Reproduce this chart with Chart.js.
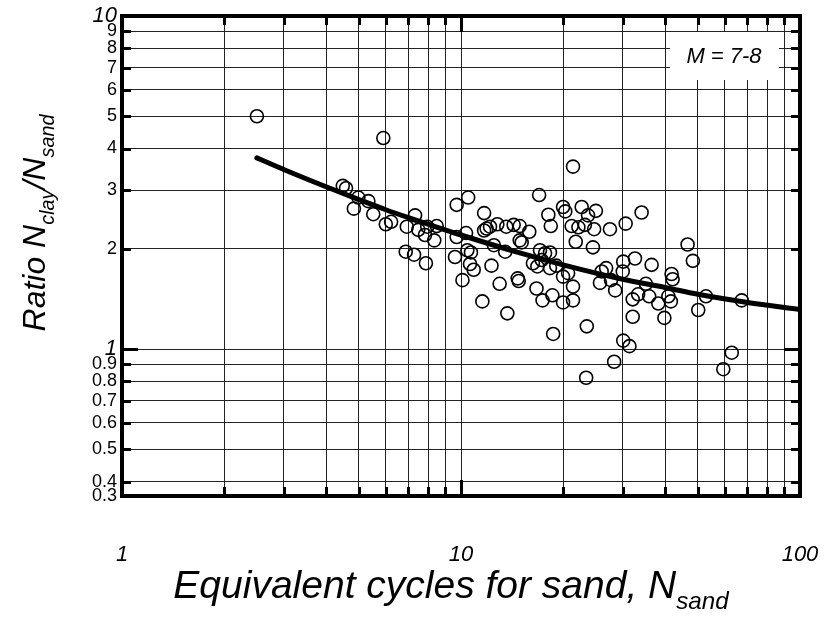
<!DOCTYPE html>
<html>
<head>
<meta charset="utf-8">
<script src="https://cdn.jsdelivr.net/npm/chart.js@4.4.1/dist/chart.umd.min.js"></script>
<style>
html,body{margin:0;padding:0;background:#fff;}
canvas{display:block;}
</style>
</head>
<body>
<canvas id="chart" width="828" height="621"></canvas>
<script>

const sandCycles = [
  2.5, 5.9, 4.48, 4.58, 4.98, 5.33, 4.83, 5.51, 6.0, 6.22,
  6.92, 7.32, 6.87, 7.27, 7.48, 7.95, 7.83, 8.48, 8.34, 7.88,
  9.71, 10.5, 9.71, 10.35, 9.6, 10.44, 10.7, 10.63, 10.9, 10.1,
  11.56, 11.7, 11.7, 11.9, 12.18, 12.8, 12.5, 12.3, 13.5, 13.6,
  14.3, 14.9, 15.9, 14.9, 15.1, 13.0, 14.7, 14.8, 13.7, 17.0,
  18.1, 18.4, 20.0, 17.1, 17.7, 18.3, 16.3, 16.8, 17.3, 18.3,
  19.1, 16.7, 17.4, 18.6, 20.0, 18.7, 20.0, 21.4, 20.3, 22.7,
  23.7, 25.0, 21.2, 22.2, 23.2, 24.7, 27.5, 30.6, 34.1, 21.8,
  24.5, 20.7, 21.4, 21.4, 23.5, 26.0, 26.8, 25.7, 27.7, 28.5,
  30.1, 30.0, 32.6, 36.5, 32.1, 33.3, 35.1, 35.9, 38.2, 32.1,
  39.8, 41.8, 42.1, 40.9, 41.6, 46.6, 48.3, 50.1, 30.1, 31.4,
  52.8, 67.3, 62.9, 59.4, 28.3, 23.4
];
const cycleRatio = [
  5.0, 4.3, 3.09, 3.04, 2.85, 2.78, 2.64, 2.54, 2.37, 2.41,
  2.33, 2.52, 1.96, 1.92, 2.28, 2.33, 2.20, 2.34, 2.12, 1.81,
  2.71, 2.85, 2.17, 2.23, 1.89, 1.98, 1.95, 1.80, 1.73, 1.61,
  1.39, 2.56, 2.27, 2.30, 2.33, 2.37, 2.05, 1.78, 1.96, 2.33,
  2.36, 2.34, 2.25, 2.12, 2.09, 1.57, 1.63, 1.60, 1.28, 2.90,
  2.53, 2.34, 2.67, 1.98, 1.94, 1.95, 1.81, 1.77, 1.85, 1.75,
  1.78, 1.52, 1.40, 1.45, 1.38, 1.11, 1.65, 3.53, 2.59, 2.67,
  2.52, 2.60, 2.34, 2.32, 2.36, 2.29, 2.29, 2.38, 2.57, 2.10,
  2.02, 1.69, 1.54, 1.40, 1.17, 1.71, 1.75, 1.58, 1.61, 1.50,
  1.83, 1.71, 1.87, 1.79, 1.41, 1.46, 1.57, 1.44, 1.37, 1.25,
  1.24, 1.68, 1.62, 1.44, 1.39, 2.06, 1.84, 1.31, 1.06, 1.02,
  1.44, 1.40, 0.975, 0.87, 0.916, 0.82
];

// fitted trend line
const fitCycles = [2.5, 3, 4, 5, 6, 7, 8, 10, 15, 20, 30, 40, 50, 70, 100];
const fitRatio = [3.75, 3.46, 3.07, 2.81, 2.62, 2.48, 2.37, 2.20, 1.94, 1.79, 1.62, 1.53, 1.46, 1.38, 1.315];

const xTicks = [1, 2, 3, 4, 5, 6, 7, 8, 9, 10, 20, 30, 40, 50, 60, 70, 80, 90, 100];
const xTickLabels = ["1", "", "", "", "", "", "", "", "", "10", "", "", "", "", "", "", "", "", "100"];
const yTicks = [0.362, 0.4, 0.5, 0.6, 0.7, 0.8, 0.9, 1, 2, 3, 4, 5, 6, 7, 8, 9, 10];
const yTickLabels = ["0.3", "0.4", "0.5", "0.6", "0.7", "0.8", "0.9", "1", "2", "3", "4", "5", "6", "7", "8", "9", "10"];

const magnitudeLabel = "M = 7-8";
const xTitle = [{t: "Equivalent cycles for sand, N"}, {t: "sand", sub: true}];
const yTitle = [{t: "Ratio N"}, {t: "clay", sub: true}, {t: "/N"}, {t: "sand", sub: true}];

const FONT = '"Liberation Sans", Arial, sans-serif';

function drawRuns(ctx, runs, size){
    const subSize = size * 0.62;
    let total = 0;
    runs.forEach(r => {
        ctx.font = "italic " + (r.sub ? subSize : size) + "px " + FONT;
        r.w = ctx.measureText(r.t).width;
        total += r.w;
    });
    let cx = -total / 2;
    ctx.textAlign = "left";
    ctx.textBaseline = "alphabetic";
    runs.forEach(r => {
        ctx.font = "italic " + (r.sub ? subSize : size) + "px " + FONT;
        ctx.fillText(r.t, cx, r.sub ? size * 0.28 : 0);
        cx += r.w;
    });
}

const framePlugin = {
    id: "frame",
    beforeDatasetsDraw(chart){
        const ctx = chart.ctx;
        const a = chart.chartArea;
        ctx.save();
        ctx.fillStyle = "#fff";
        ctx.fillRect(a.right - 130, a.top + 16, 109, 48);
        ctx.fillStyle = "#000";
        ctx.font = "italic 22px " + FONT;
        ctx.textAlign = "center";
        ctx.textBaseline = "middle";
        ctx.fillText(magnitudeLabel, a.right - 76, a.top + 41);
        ctx.restore();
    },
    afterDraw(chart){
        const ctx = chart.ctx;
        const a = chart.chartArea;
        const xs = chart.scales.x;
        const ys = chart.scales.y;
        ctx.save();
        ctx.strokeStyle = "#000";
        ctx.lineWidth = 3;
        ctx.beginPath();
        xTicks.forEach(v => {
            if(v === xTicks[0] || v === xTicks[xTicks.length - 1]) return;
            const p = Math.round(xs.getPixelForValue(v)) + 0.5;
            const len = v === 10 ? 16 : 9;
            ctx.moveTo(p, a.bottom); ctx.lineTo(p, a.bottom - len);
            ctx.moveTo(p, a.top); ctx.lineTo(p, a.top + len);
        });
        yTicks.forEach(v => {
            if(v === yTicks[0] || v === yTicks[yTicks.length - 1]) return;
            const p = Math.round(ys.getPixelForValue(v)) + 0.5;
            const len = v === 1 ? 16 : 9;
            ctx.moveTo(a.left, p); ctx.lineTo(a.left + len, p);
            ctx.moveTo(a.right, p); ctx.lineTo(a.right - len, p);
        });
        ctx.stroke();

        ctx.lineWidth = 4;
        ctx.strokeRect(a.left, a.top, a.right - a.left, a.bottom - a.top);

        ctx.fillStyle = "#000";
        ctx.save();
        ctx.translate(451, 598);
        drawRuns(ctx, xTitle, 39);
        ctx.restore();

        ctx.save();
        ctx.translate(45, 223);
        ctx.rotate(-Math.PI / 2);
        drawRuns(ctx, yTitle, 32);
        ctx.restore();

        ctx.restore();
    }
};

const points = sandCycles.map((x, i) => ({x: x, y: cycleRatio[i]}));
const fitPoints = fitCycles.map((x, i) => ({x: x, y: fitRatio[i]}));

new Chart(document.getElementById("chart"), {
    data: {
        datasets: [{
            type: "line",
            data: fitPoints,
            borderColor: "#000",
            borderWidth: 5,
            borderCapStyle: "round",
            pointRadius: 0,
            fill: false,
            cubicInterpolationMode: "monotone"
        }, {
            type: "scatter",
            data: points,
            pointRadius: 6.5,
            pointBorderWidth: 1.6,
            pointBorderColor: "#000",
            pointBackgroundColor: "rgba(0,0,0,0)"
        }]
    },
    options: {
        responsive: false,
        animation: false,
        devicePixelRatio: 1,
        layout: {padding: {top: 16, right: 28, left: 0, bottom: 0}},
        plugins: {legend: {display: false}, tooltip: {enabled: false}},
        scales: {
            x: {
                type: "logarithmic",
                min: 1,
                max: 100,
                afterBuildTicks: s => { s.ticks = xTicks.map(v => ({value: v})); },
                afterFit: s => { s.height = 125; s.paddingLeft = 0; s.paddingRight = 0; },
                grid: {color: "#222", lineWidth: 1, drawTicks: false},
                border: {display: false},
                ticks: {
                    autoSkip: false,
                    maxRotation: 0,
                    padding: 46,
                    color: "#000",
                    font: {family: FONT, size: 22, style: "italic"},
                    callback: (v, i) => xTickLabels[i]
                }
            },
            y: {
                type: "logarithmic",
                min: yTicks[0],
                max: 10,
                afterBuildTicks: s => { s.ticks = yTicks.map(v => ({value: v})); },
                afterFit: s => { s.width = 122; s.paddingTop = 0; s.paddingBottom = 0; },
                grid: {color: "#222", lineWidth: 1, drawTicks: false},
                border: {display: false},
                ticks: {
                    autoSkip: false,
                    padding: 5,
                    color: "#000",
                    font: c => (c.tick && (c.tick.value === 1 || c.tick.value === 10))
                        ? {family: FONT, size: 22, style: "italic"}
                        : {family: FONT, size: 18},
                    callback: (v, i) => yTickLabels[i]
                }
            }
        }
    },
    plugins: [framePlugin]
});
</script>
</body>
</html>
